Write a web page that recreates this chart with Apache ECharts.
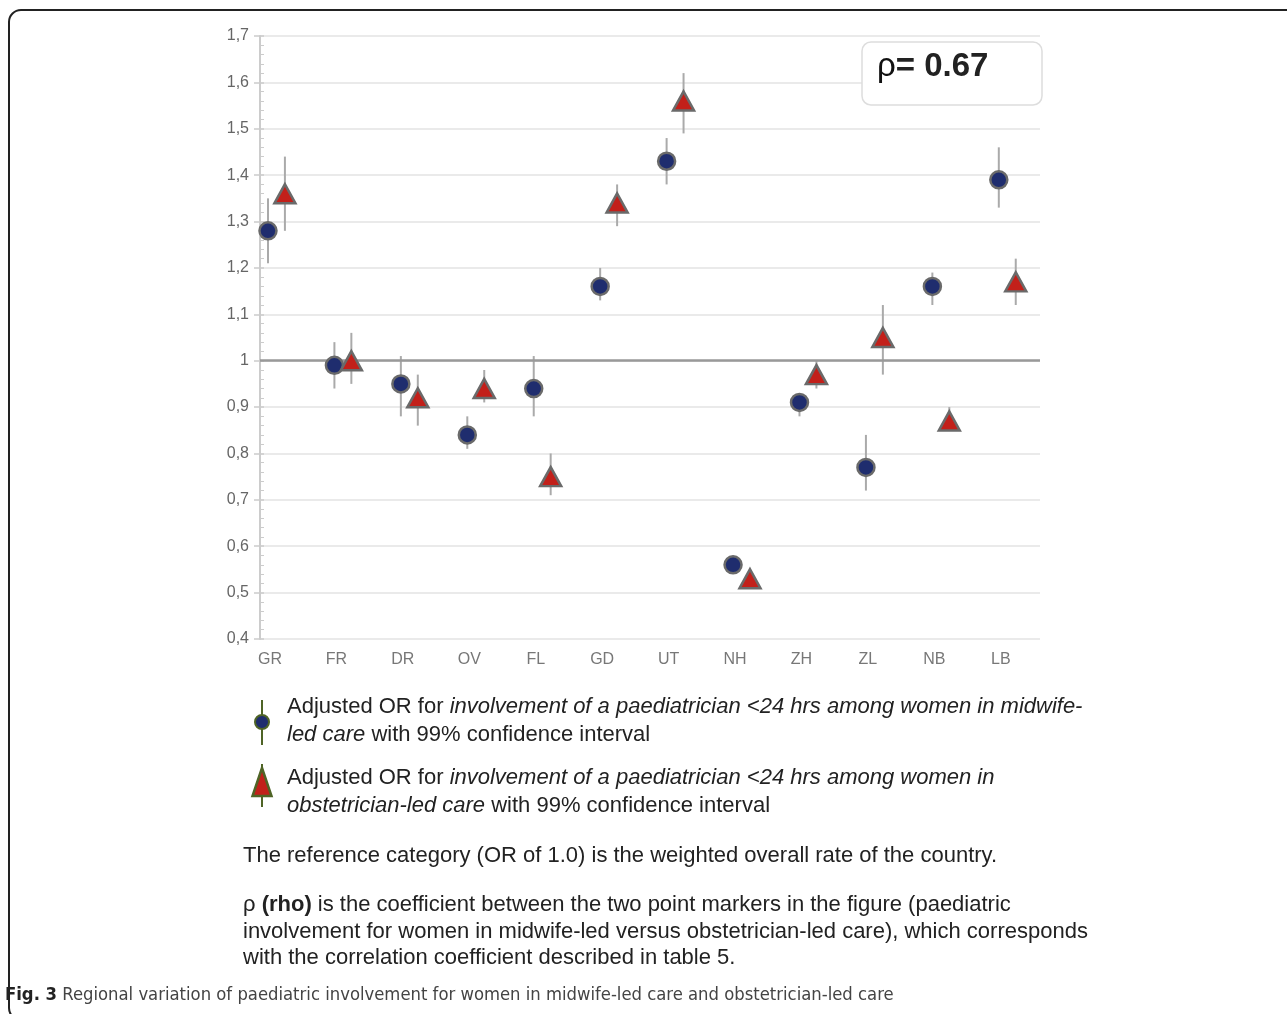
<!DOCTYPE html>
<html>
<head>
<meta charset="utf-8">
<script src="https://cdn.jsdelivr.net/npm/echarts@6/dist/echarts.min.js"></script>
<style>
  html, body { margin: 0; padding: 0; background: #fff; }
  #chart { width: 1287px; height: 1014px; }
</style>
</head>
<body>
<div id="chart"></div>
<script>
// regions (x axis)
var regions = ['GR', 'FR', 'DR', 'OV', 'FL', 'GD', 'UT', 'NH', 'ZH', 'ZL', 'NB', 'LB'];

// midwife-led care: adjusted OR and 99% CI
var midOR  = [1.28, 0.99, 0.95, 0.84, 0.94, 1.16, 1.43, 0.56, 0.91, 0.77, 1.16, 1.39];
var midLow = [1.21, 0.94, 0.88, 0.81, 0.88, 1.13, 1.38, 0.55, 0.88, 0.72, 1.12, 1.33];
var midHigh= [1.35, 1.04, 1.01, 0.88, 1.01, 1.20, 1.48, 0.57, 0.93, 0.84, 1.19, 1.46];

// obstetrician-led care: adjusted OR and 99% CI
var obsOR  = [1.36, 1.00, 0.92, 0.94, 0.75, 1.34, 1.56, 0.53, 0.97, 1.05, 0.87, 1.17];
var obsLow = [1.28, 0.95, 0.86, 0.91, 0.71, 1.29, 1.49, 0.52, 0.94, 0.97, 0.85, 1.12];
var obsHigh= [1.44, 1.06, 0.97, 0.98, 0.80, 1.38, 1.62, 0.54, 1.00, 1.12, 0.90, 1.22];

var rho = '0.67';

var font = '"Liberation Sans", Arial, Helvetica, sans-serif';
var capFont = '"Liberation Sans Narrow", "DejaVu Sans Condensed", "Open Sans", sans-serif';
var midOff = -0.03, obsOff = 0.225;

var midPts = [], obsPts = [], midBars = [], obsBars = [];
for (var i = 0; i < regions.length; i++) {
  midPts.push([i + midOff, midOR[i]]);
  obsPts.push([i + obsOff, obsOR[i]]);
  midBars.push([i + midOff, midLow[i], midHigh[i]]);
  obsBars.push([i + obsOff, obsLow[i], obsHigh[i]]);
}

function ciLine(params, api) {
  var a = api.coord([api.value(0), api.value(1)]);
  var b = api.coord([api.value(0), api.value(2)]);
  return {
    type: 'line',
    shape: { x1: a[0], y1: a[1], x2: b[0], y2: b[1] },
    style: { stroke: '#aaaaaa', lineWidth: 2 }
  };
}

function fmtY(v) {
  var s = (Math.round(v * 10) / 10).toString();
  return s.replace('.', ',');
}

var chart = echarts.init(document.getElementById('chart'));

var txt = { fontSize: 22, fontFamily: font, fill: '#222', lineHeight: 28 };
var txtI = { fontSize: 22, fontStyle: 'italic', fontFamily: font, fill: '#222', lineHeight: 28 };
var txtB = { fontSize: 22, fontWeight: 'bold', fontFamily: font, fill: '#222', lineHeight: 26.5 };
var txtN = { fontSize: 22, fontFamily: font, fill: '#222', lineHeight: 26.5 };

var option = {
  backgroundColor: '#fff',
  animation: false,
  grid: { left: 260, right: 247, top: 36, bottom: 375 },
  xAxis: {
    type: 'value',
    min: -0.15,
    max: 11.59,
    axisLine: { show: false },
    axisTick: { show: false },
    splitLine: { show: false },
    axisLabel: {
      customValues: regions.map(function (r, i) { return i; }),
      formatter: function (v) { return regions[Math.round(v)]; },
      color: '#777',
      fontSize: 16,
      fontFamily: font,
      margin: 13
    }
  },
  yAxis: [{
    type: 'value',
    min: 0.4,
    max: 1.7,
    interval: 0.1,
    position: 'left',
    axisLine: { show: true, onZero: false, lineStyle: { color: '#cccccc', width: 2 } },
    axisTick: { show: true, length: 6, lineStyle: { color: '#cccccc', width: 1.5 } },
    axisLabel: { color: '#666', fontSize: 16, fontFamily: font, margin: 11, formatter: fmtY },
    splitLine: { show: true, lineStyle: { color: '#e3e3e3', width: 1.5 } }
  }, {
    type: 'value',
    min: 0.4,
    max: 1.7,
    interval: 0.1,
    position: 'left',
    offset: 0,
    axisLine: { show: false, onZero: false },
    axisTick: { show: true, inside: true, length: 4, lineStyle: { color: '#cccccc', width: 1.5 } },
    minorTick: { show: true, splitNumber: 5, length: 4, lineStyle: { color: '#cccccc', width: 1 } },
    axisLabel: { show: false },
    splitLine: { show: false }
  }],
  series: [{
    type: 'custom',
    name: 'midCI',
    renderItem: ciLine,
    data: midBars,
    z: 2
  }, {
    type: 'custom',
    name: 'obsCI',
    renderItem: ciLine,
    data: obsBars,
    z: 2
  }, {
    type: 'scatter',
    name: 'midwife-led',
    data: midPts,
    symbol: 'circle',
    symbolSize: 17,
    itemStyle: { color: '#1f2d6e', borderColor: '#6a6a6a', borderWidth: 2.5, opacity: 1 },
    z: 4,
    markLine: {
      silent: true,
      symbol: 'none',
      label: { show: false },
      lineStyle: { color: '#999999', width: 2.5, type: 'solid' },
      data: [{ yAxis: 1 }],
      z: 3
    }
  }, {
    type: 'scatter',
    name: 'obstetrician-led',
    data: obsPts,
    symbol: 'triangle',
    symbolSize: [21, 19],
    itemStyle: { color: '#c2201a', borderColor: '#6a6a6a', borderWidth: 2.5, opacity: 1 },
    z: 4
  }],
  graphic: [
    // figure frame
    {
      type: 'rect', z: 0, silent: true,
      shape: { x: 9, y: 10, width: 1300, height: 1010, r: 12 },
      style: { fill: 'none', stroke: '#222', lineWidth: 2 }
    },
    // rho box
    {
      type: 'rect', z: 10,
      shape: { x: 862, y: 42, width: 180, height: 63, r: 9 },
      style: { fill: '#fff', stroke: '#dddddd', lineWidth: 1.5 }
    },
    {
      type: 'text', z: 11, x: 877, y: 67,
      style: {
        text: '{a|ρ}{b|= ' + rho + '}',
        verticalAlign: 'middle',
        rich: {
          a: { fontSize: 33, fontFamily: font, fill: '#111' },
          b: { fontSize: 33, fontWeight: 'bold', fontFamily: font, fill: '#222' }
        }
      }
    },
    // legend icons
    {
      type: 'line', z: 10,
      shape: { x1: 262, y1: 700, x2: 262, y2: 745 },
      style: { stroke: '#4f6426', lineWidth: 2 }
    },
    {
      type: 'circle', z: 11,
      shape: { cx: 262, cy: 722, r: 7 },
      style: { fill: '#1f2d6e', stroke: '#4f6426', lineWidth: 2 }
    },
    {
      type: 'line', z: 10,
      shape: { x1: 262, y1: 764, x2: 262, y2: 807 },
      style: { stroke: '#4f6426', lineWidth: 2 }
    },
    {
      type: 'polygon', z: 11,
      shape: { points: [[262, 768], [252.5, 796], [271.5, 796]] },
      style: { fill: '#c2201a', stroke: '#4f6426', lineWidth: 2.5 }
    },
    // legend texts
    {
      type: 'text', z: 10, x: 287, y: 693,
      style: {
        text: '{n|Adjusted OR for }{i|involvement of a paediatrician <24 hrs among women in midwife-}\n{i|led care}{n| with 99% confidence interval}',
        rich: { n: txt, i: txtI }
      }
    },
    {
      type: 'text', z: 10, x: 287, y: 764,
      style: {
        text: '{n|Adjusted OR for }{i|involvement of a paediatrician <24 hrs among women in}\n{i|obstetrician-led care}{n| with 99% confidence interval}',
        rich: { n: txt, i: txtI }
      }
    },
    // notes
    {
      type: 'text', z: 10, x: 243, y: 856,
      style: {
        text: 'The reference category (OR of 1.0) is the weighted overall rate of the country.',
        fontSize: 22, fontFamily: font, fill: '#222', verticalAlign: 'middle'
      }
    },
    {
      type: 'text', z: 10, x: 243, y: 892,
      style: {
        text: '{n|ρ }{b|(rho)}{n| is the coefficient between the two point markers in the figure (paediatric}\n{n|involvement for women in midwife-led versus obstetrician-led care), which corresponds}\n{n|with the correlation coefficient described in table 5.}',
        rich: { n: txtN, b: txtB }
      }
    },
    // figure caption
    {
      type: 'text', z: 10, x: 5, y: 995,
      style: {
        text: '{b|Fig. 3}{n| Regional variation of paediatric involvement for women in midwife-led care and obstetrician-led care}',
        verticalAlign: 'middle',
        rich: {
          b: { fontSize: 18.3, fontWeight: 'bold', fontFamily: capFont, fill: '#222' },
          n: { fontSize: 18.3, fontFamily: capFont, fill: '#444' }
        }
      }
    }
  ]
};

chart.setOption(option);
</script>
</body>
</html>
